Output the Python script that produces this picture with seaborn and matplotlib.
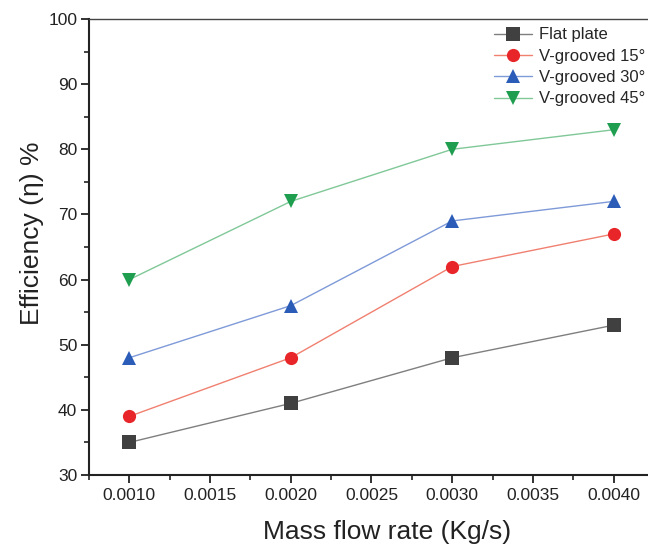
import matplotlib
matplotlib.use("Agg")
import matplotlib.pyplot as plt
import seaborn as sns
import pandas as pd
from matplotlib.ticker import MultipleLocator

mass_flow = [0.0010, 0.0020, 0.0030, 0.0040]
flat_plate = [35, 41, 48, 53]
vg15 = [39, 48, 62, 67]
vg30 = [48, 56, 69, 72]
vg45 = [60, 72, 80, 83]
series_names = ["Flat plate", "V-grooved 15°", "V-grooved 30°", "V-grooved 45°"]

marker_colors = ["#404040", "#e8262a", "#2a5cb8", "#1f9e50"]
line_colors = ["#7f7f7f", "#f08070", "#7f9ad8", "#80c898"]
markers = ["s", "o", "^", "v"]

rows = []
for name, vals in zip(series_names, [flat_plate, vg15, vg30, vg45]):
    for x, y in zip(mass_flow, vals):
        rows.append({"Mass flow rate": x, "Efficiency": y, "Series": name})
df = pd.DataFrame(rows)

sns.set_theme(style="ticks")
plt.rcParams["font.family"] = ["Liberation Sans", "DejaVu Sans"]

fig = plt.figure(figsize=(6.48, 5.46), dpi=100)
left_px, right_px, top_px, bottom_px = 89, 654, 19, 475
ax = fig.add_axes([left_px / 648, (546 - bottom_px) / 546,
                   (right_px - left_px) / 648, (bottom_px - top_px) / 546])

sns.lineplot(data=df, x="Mass flow rate", y="Efficiency", hue="Series", style="Series",
             hue_order=series_names, style_order=series_names,
             palette=dict(zip(series_names, marker_colors)),
             markers=dict(zip(series_names, markers)), dashes=False,
             markersize=9.5, linewidth=1.0, markeredgewidth=0, ax=ax, legend=False)

for line, lc, mc in zip(ax.lines, line_colors, marker_colors):
    line.set_color(lc)
    line.set_markerfacecolor(mc)
    line.set_markeredgecolor(mc)

ax.set_xlim(0.00075, 0.00425)
ax.set_ylim(30, 100)
ax.set_xticks([0.0010, 0.0015, 0.0020, 0.0025, 0.0030, 0.0035, 0.0040])
ax.set_xticklabels(["0.0010", "0.0015", "0.0020", "0.0025", "0.0030", "0.0035", "0.0040"])
ax.xaxis.set_minor_locator(MultipleLocator(0.00025))
ax.yaxis.set_major_locator(MultipleLocator(10))
ax.yaxis.set_minor_locator(MultipleLocator(5))

ax.tick_params(axis="both", which="major", direction="out", length=6, width=1.3,
               labelsize=12.5, colors="#222222")
ax.tick_params(axis="y", which="major", pad=2.5)
ax.tick_params(axis="both", which="minor", direction="out", length=3.5, width=1.2, color="#222222")

ax.set_xlabel("Mass flow rate (Kg/s)", fontsize=19, color="#222222")
ax.set_ylabel("Efficiency (η) %", fontsize=19, color="#222222")
ax.xaxis.set_label_coords((387 - left_px) / (right_px - left_px), -(520 - bottom_px) / (bottom_px - top_px))
ax.yaxis.set_label_coords(-(89 - 44) / (right_px - left_px), (bottom_px - 233) / (bottom_px - top_px))

for side in ["left", "bottom"]:
    ax.spines[side].set_linewidth(1.5)
    ax.spines[side].set_color("#222222")
ax.spines["top"].set_linewidth(1.0)
ax.spines["top"].set_color("#444444")
ax.spines["right"].set_visible(False)

leg = ax.legend(handles=ax.lines, labels=series_names, loc="upper left",
                bbox_to_anchor=((482 - left_px) / (right_px - left_px), 1.007), frameon=False,
                fontsize=12, handlelength=2.3, labelspacing=0.38, handletextpad=0.4,
                borderaxespad=0.3)

fig.savefig("out.png", dpi=100)
